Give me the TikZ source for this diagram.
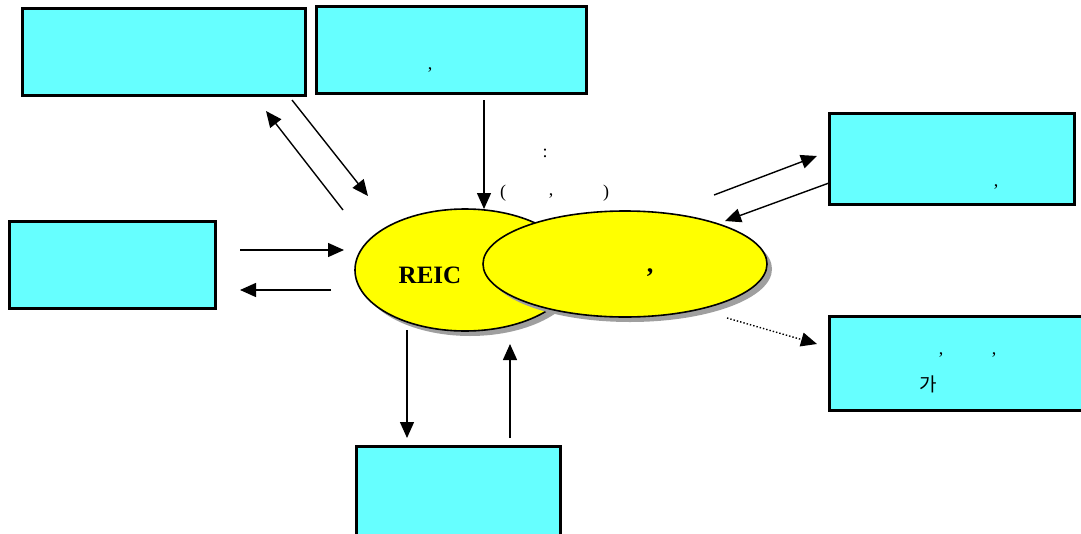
\documentclass[tikz,border=0pt]{standalone}
\usepackage{fontspec}
\setmainfont{Liberation Serif}
\newfontfamily\kr{Noto Sans CJK KR}
\usetikzlibrary{arrows.meta}
\definecolor{boxcyan}{RGB}{102,255,255}
\definecolor{ellyellow}{RGB}{255,255,0}
\tikzset{
  bx/.style={draw=black,line width=3pt,fill=boxcyan},
  ell/.style={draw=black,line width=1.6pt,fill=ellyellow},
  shd/.style={fill=gray!75,draw=none},
  arr/.style={line width=1.4pt,-{Triangle[length=16pt,width=14pt]}},
  darr/.style={line width=1.4pt,dotted,-{Triangle[length=16pt,width=14pt]}},
  lbl/.style={font=\fontsize{18}{20}\selectfont}
}
\begin{document}
\begin{tikzpicture}[x=1pt,y=-1pt]
\useasboundingbox (0,0) rectangle (1081,533);
% boxes
\draw[bx] (22,8) rectangle (305,95);
\draw[bx] (316,6) rectangle (586,93);
\draw[bx] (829,113) rectangle (1074,204);
\draw[bx] (9,221) rectangle (215,308);
\draw[bx] (829,316) rectangle (1085,410);
\draw[bx] (356,446) rectangle (560,540);
% ellipses with shadows
\fill[shd] (470,275) ellipse [x radius=110,y radius=61];
\draw[ell] (465,270) ellipse [x radius=110,y radius=61];
\fill[shd] (630,269) ellipse [x radius=142,y radius=53];
\draw[ell] (625,264) ellipse [x radius=142,y radius=53];
% texts
\node[font=\fontsize{25}{28}\selectfont\bfseries] (reic) at (430,275) {REIC};
\node[font=\fontsize{26}{28}\selectfont\bfseries] (c1) at (650,273) {,};
\node[lbl] (colon) at (545,153) {:};
\node[lbl] (lp) at (503,193) {(};
\node[lbl] (cm) at (551,196) {,};
\node[lbl] (rp) at (606,193) {)};
\node[lbl] (cb) at (430,70) {,};
\node[lbl] (cc) at (996,187) {,};
\node[lbl] (ce1) at (941,355) {,};
\node[lbl] (ce2) at (994,355) {,};
\node[font=\kr\fontsize{19}{21}\selectfont] (ga) at (928,384) {가};
% arrow endpoints
\coordinate (a1s) at (343,210); \coordinate (a1e) at (266,111);
\coordinate (a2s) at (292,100); \coordinate (a2e) at (368,196);
\coordinate (a3s) at (484,100); \coordinate (a3e) at (484,209);
\coordinate (a4s) at (240,250); \coordinate (a4e) at (344,250);
\coordinate (a5s) at (331,290); \coordinate (a5e) at (240,290);
\coordinate (a6s) at (407,330); \coordinate (a6e) at (407,438);
\coordinate (a7s) at (510,438); \coordinate (a7e) at (510,344);
\coordinate (a8s) at (714,195); \coordinate (a8e) at (817,156);
\coordinate (a9s) at (829,183); \coordinate (a9e) at (725,221);
\coordinate (a10s) at (727,318); \coordinate (a10e) at (817,344);
\draw[arr] (a1s) -- (a1e);
\draw[arr] (a2s) -- (a2e);
\draw[arr] (a3s) -- (a3e);
\draw[arr] (a4s) -- (a4e);
\draw[arr] (a5s) -- (a5e);
\draw[arr] (a6s) -- (a6e);
\draw[arr] (a7s) -- (a7e);
\draw[arr] (a8s) -- (a8e);
\draw[arr] (a9s) -- (a9e);
\draw[darr] (a10s) -- (a10e);
\end{tikzpicture}
\end{document}
